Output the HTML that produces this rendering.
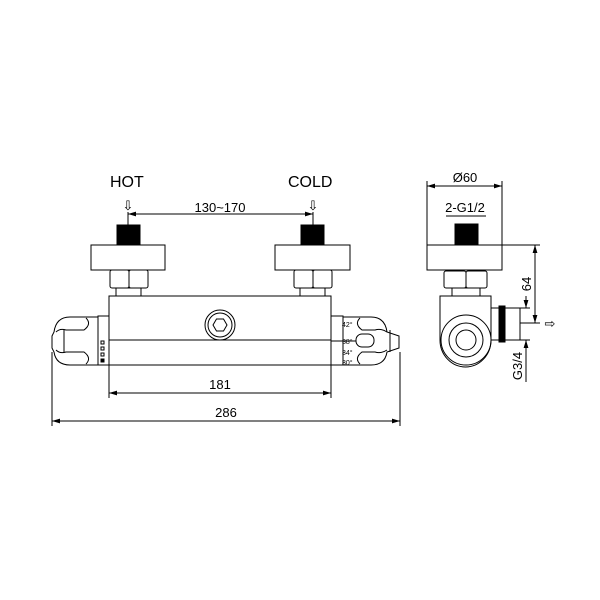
<!DOCTYPE html>
<html><head><style>body{margin:0;background:#fff}svg{display:block}text{font-family:"Liberation Sans",sans-serif;fill:#000}</style></head><body>
<svg width="600" height="600" viewBox="0 0 600 600" xmlns="http://www.w3.org/2000/svg">
<defs><marker id="a" viewBox="0 0 10 6" refX="10" refY="3" markerWidth="8" markerHeight="5" orient="auto-start-reverse"><path d="M0,0L10,3L0,6z" fill="#000"/></marker></defs>
<g fill="none" stroke="#000" stroke-width="1">
<text x="110" y="187" font-size="16" stroke="none">HOT</text>
<text x="288" y="187" font-size="16" stroke="none">COLD</text>
<text x="220" y="212" font-size="13" stroke="none" text-anchor="middle">130~170</text>
<text x="128" y="210" font-size="13" stroke="none" text-anchor="middle">⇩</text>
<text x="313" y="210" font-size="13" stroke="none" text-anchor="middle">⇩</text>
<line x1="128" y1="214" x2="313" y2="214" marker-start="url(#a)" marker-end="url(#a)"/>
<line x1="128" y1="212" x2="128" y2="226"/><line x1="313" y1="212" x2="313" y2="226"/>
<rect x="117" y="225" width="23" height="20" fill="#000"/>
<rect x="91" y="245" width="74" height="25"/>
<rect x="110" y="270" width="19" height="18" rx="2"/><rect x="129" y="270" width="19" height="18" rx="2"/>
<rect x="116" y="288" width="25" height="8"/>
<rect x="301" y="225" width="23" height="20" fill="#000"/>
<rect x="275" y="245" width="75" height="25"/>
<rect x="294" y="270" width="19" height="18" rx="2"/><rect x="313" y="270" width="19" height="18" rx="2"/>
<rect x="300" y="288" width="25" height="8"/>
<rect x="109" y="296" width="222" height="69"/>
<line x1="109" y1="340" x2="331" y2="340"/>
<circle cx="220" cy="325" r="15"/><circle cx="220" cy="325" r="12"/>
<polygon points="213,325 216.5,319 223.5,319 227,325 223.5,331 216.5,331"/>
<rect x="98" y="316" width="11" height="49"/>
<path d="M98,317 L70,317 Q56,317 54,332 L52,336 L52,348 L54,352 Q56,365 70,365 L98,365"/>
<path d="M56,332 Q60,328 66,330 L84,330 Q92,324 86,318"/>
<path d="M56,350 Q60,354 66,352 L84,352 Q92,358 86,364"/>
<line x1="64" y1="330" x2="64" y2="352"/>
<rect x="101" y="341" width="3" height="3"/><rect x="101" y="347" width="3" height="3"/><rect x="101" y="353" width="3" height="3"/><rect x="101" y="359" width="3" height="3" fill="#000"/>
<rect x="331" y="316" width="12" height="49"/>
<path d="M343,317 L371,317 Q385,317 387,332 L399,336 L399,348 L387,352 Q385,365 371,365 L343,365"/>
<path d="M387,332 Q381,328 375,330 L362,330 Q354,324 360,318"/>
<path d="M387,350 Q381,354 375,352 L362,352 Q354,358 360,364"/>
<line x1="390" y1="330" x2="390" y2="352"/>
<rect x="356" y="334" width="18" height="13" rx="6"/>
<line x1="331" y1="341" x2="356" y2="341"/>
<text x="342" y="327" font-size="7" stroke="none">42°</text>
<text x="342" y="344" font-size="7" stroke="none">38°</text>
<text x="342" y="355" font-size="7" stroke="none">34°</text>
<text x="342" y="365" font-size="7" stroke="none">30°</text>
<line x1="109" y1="365" x2="109" y2="398"/><line x1="331" y1="365" x2="331" y2="398"/>
<line x1="109" y1="393" x2="331" y2="393" marker-start="url(#a)" marker-end="url(#a)"/>
<text x="220" y="389" font-size="13" stroke="none" text-anchor="middle">181</text>
<line x1="52" y1="352" x2="52" y2="426"/><line x1="400" y1="352" x2="400" y2="426"/>
<line x1="52" y1="421" x2="400" y2="421" marker-start="url(#a)" marker-end="url(#a)"/>
<text x="226" y="417" font-size="13" stroke="none" text-anchor="middle">286</text>
<line x1="427" y1="181" x2="427" y2="245"/><line x1="502" y1="181" x2="502" y2="245"/>
<line x1="427" y1="186" x2="502" y2="186" marker-start="url(#a)" marker-end="url(#a)"/>
<text x="465" y="182" font-size="13" stroke="none" text-anchor="middle">Ø60</text>
<text x="465" y="212" font-size="13" stroke="none" text-anchor="middle">2-G1/2</text>
<line x1="446" y1="216" x2="486" y2="216"/>
<rect x="455" y="224" width="23" height="21" fill="#000"/>
<rect x="427" y="245" width="75" height="25"/>
<rect x="444" y="271" width="22" height="17" rx="2"/><rect x="466" y="271" width="21" height="17" rx="2"/>
<rect x="452" y="288" width="28" height="8"/>
<path d="M440,340 L440,296 L491,296 L491,340 A25.5,27 0 0 1 440,340"/>
<circle cx="466" cy="340" r="25"/><circle cx="466" cy="340" r="17"/><circle cx="466" cy="340" r="10"/>
<rect x="491" y="308" width="8" height="32"/>
<rect x="499" y="306" width="6" height="36" fill="#000"/>
<rect x="505" y="308" width="15" height="32"/>
<line x1="502" y1="245" x2="540" y2="245"/>
<line x1="520" y1="323" x2="540" y2="323"/>
<line x1="535" y1="245" x2="535" y2="323" marker-start="url(#a)" marker-end="url(#a)"/>
<text x="0" y="0" font-size="13" stroke="none" text-anchor="middle" transform="translate(531,284) rotate(-90)">64</text>
<line x1="520" y1="308" x2="530" y2="308"/><line x1="520" y1="340" x2="530" y2="340"/>
<line x1="526" y1="296" x2="526" y2="308" marker-end="url(#a)"/>
<line x1="526" y1="382" x2="526" y2="340" marker-end="url(#a)"/>
<text x="0" y="0" font-size="13" stroke="none" text-anchor="middle" transform="translate(522,366) rotate(-90)">G3/4</text>
<text x="550" y="328" font-size="13" stroke="none" text-anchor="middle">⇨</text>
</g>
</svg>
</body></html>
